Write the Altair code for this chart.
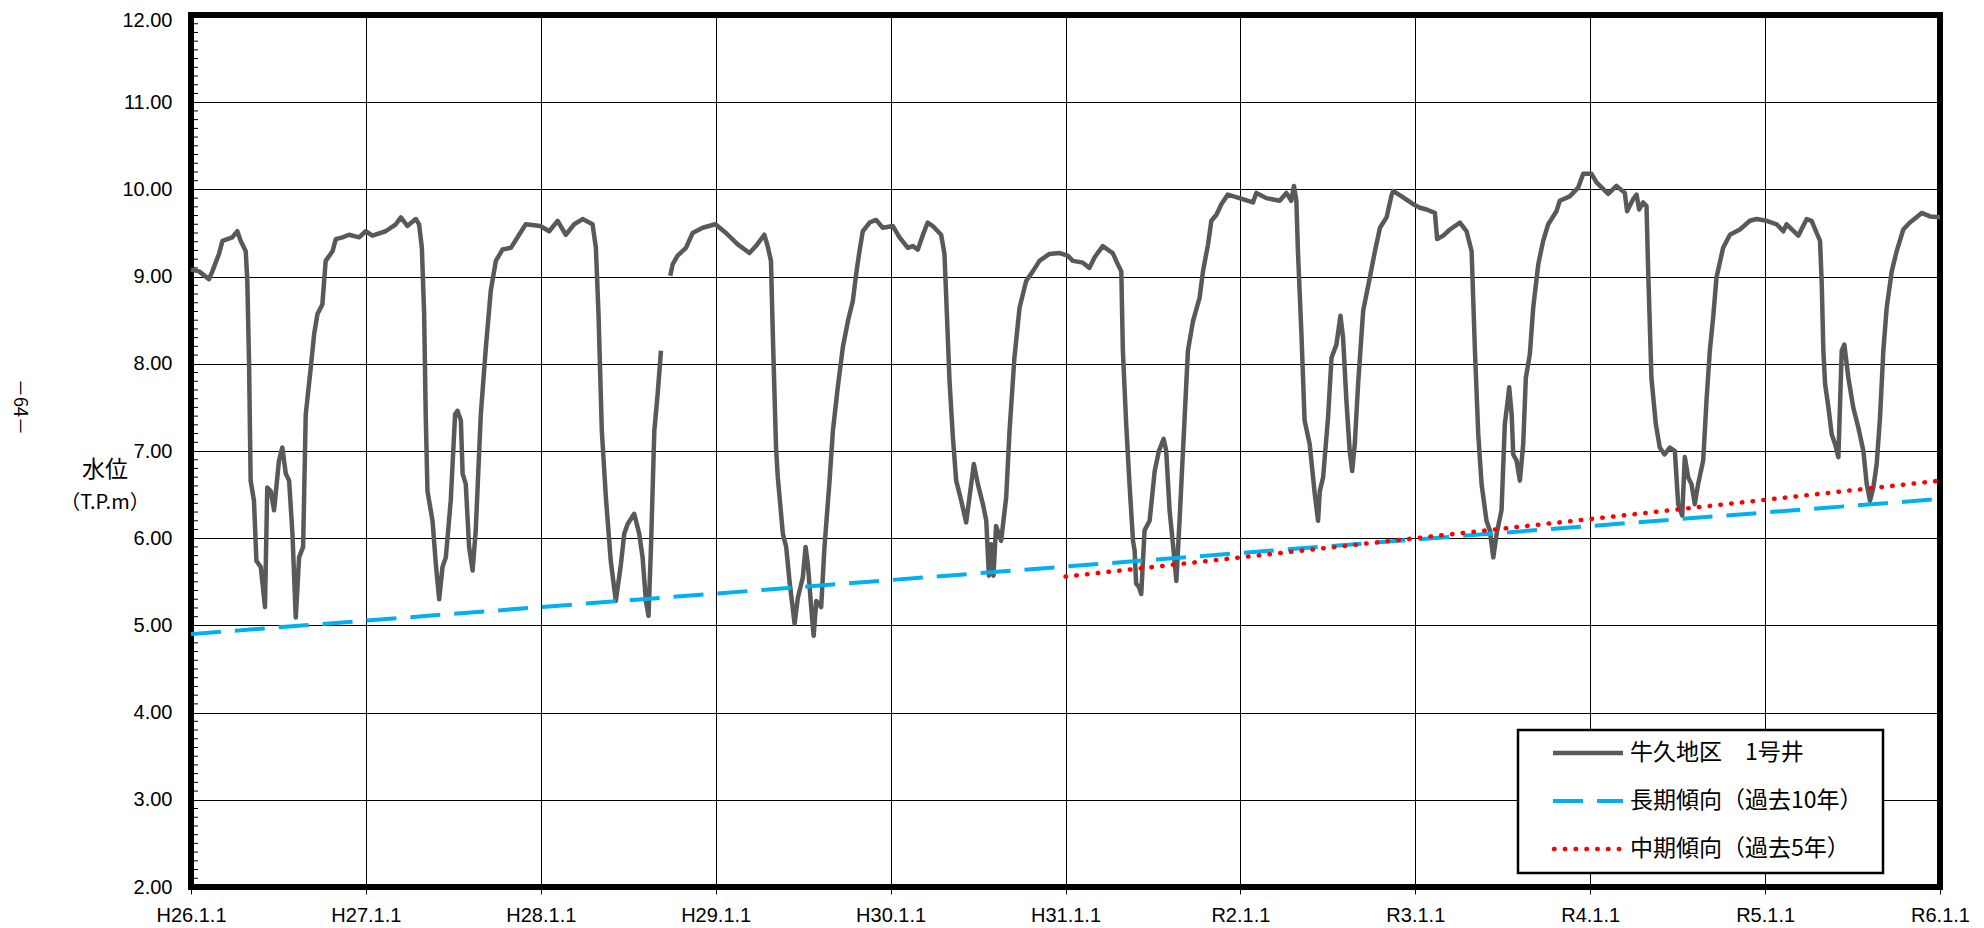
import altair as alt
import pandas as pd

# ---------------- data ----------------
X_LABELS = ["H26.1.1", "H27.1.1", "H28.1.1", "H29.1.1", "H30.1.1", "H31.1.1",
            "R2.1.1", "R3.1.1", "R4.1.1", "R5.1.1", "R6.1.1"]
X_TICKS = list(range(11))            # years since H26.1.1
Y_TICKS = [2, 3, 4, 5, 6, 7, 8, 9, 10, 11, 12]
SERIES = ["牛久地区　1号井", "長期傾向（過去10年）", "中期傾向（過去5年）"]

# observed water level, (years since H26.1.1, T.P.m), first segment (before data gap)
seg1 = [(0.0, 9.08), (0.046, 9.06), (0.103, 8.97), (0.122, 9.06), (0.16, 9.26), (0.18, 9.41),
        (0.236, 9.45), (0.265, 9.52), (0.284, 9.41), (0.313, 9.29), (0.322, 8.95), (0.332, 8.0),
        (0.341, 6.66), (0.36, 6.43), (0.374, 5.74), (0.399, 5.67), (0.423, 5.21), (0.436, 6.58),
        (0.456, 6.54), (0.475, 6.32), (0.503, 6.89), (0.522, 7.04), (0.542, 6.74), (0.561, 6.66),
        (0.58, 6.05), (0.599, 5.09), (0.618, 5.78), (0.641, 5.9), (0.656, 7.42), (0.685, 7.96),
        (0.704, 8.34), (0.723, 8.57), (0.751, 8.68), (0.77, 9.18), (0.809, 9.29), (0.828, 9.43),
        (0.866, 9.45), (0.904, 9.48), (0.961, 9.45), (0.999, 9.52), (1.037, 9.47), (1.113, 9.52),
        (1.171, 9.6), (1.2, 9.68), (1.237, 9.58), (1.285, 9.66), (1.304, 9.6), (1.32, 9.33),
        (1.333, 8.57), (1.342, 7.42), (1.352, 6.54), (1.381, 6.2), (1.4, 5.7), (1.419, 5.3),
        (1.438, 5.67), (1.457, 5.78), (1.485, 6.43), (1.51, 7.42), (1.524, 7.46), (1.543, 7.35),
        (1.553, 6.74), (1.571, 6.62), (1.59, 5.9), (1.61, 5.63), (1.628, 6.09), (1.657, 7.42),
        (1.686, 8.19), (1.714, 8.84), (1.743, 9.18), (1.781, 9.31), (1.829, 9.33), (1.876, 9.48),
        (1.914, 9.6), (1.997, 9.58), (2.048, 9.52), (2.096, 9.64), (2.143, 9.48), (2.191, 9.6),
        (2.239, 9.66), (2.296, 9.6), (2.315, 9.33), (2.33, 8.57), (2.349, 7.23), (2.372, 6.47),
        (2.4, 5.74), (2.429, 5.28), (2.458, 5.7), (2.477, 6.05), (2.496, 6.16), (2.534, 6.28),
        (2.563, 6.05), (2.582, 5.78), (2.601, 5.28), (2.616, 5.11), (2.63, 5.9), (2.649, 7.23),
        (2.668, 7.65), (2.687, 8.15)]

# second segment (after the gap)
seg2 = [(2.74, 9.01), (2.754, 9.14), (2.782, 9.24), (2.83, 9.33), (2.868, 9.5), (2.925, 9.56),
        (2.998, 9.6), (3.059, 9.5), (3.126, 9.37), (3.193, 9.27), (3.23, 9.35), (3.278, 9.48),
        (3.297, 9.35), (3.316, 9.18), (3.326, 8.38), (3.345, 7.04), (3.355, 6.7), (3.384, 6.05),
        (3.403, 5.9), (3.422, 5.51), (3.451, 5.02), (3.47, 5.32), (3.498, 5.55), (3.514, 5.9),
        (3.527, 5.7), (3.546, 5.21), (3.56, 4.88), (3.575, 5.28), (3.603, 5.21), (3.622, 5.9),
        (3.651, 6.66), (3.67, 7.23), (3.698, 7.73), (3.727, 8.19), (3.756, 8.49), (3.784, 8.72),
        (3.803, 9.03), (3.822, 9.29), (3.841, 9.52), (3.88, 9.62), (3.917, 9.65), (3.955, 9.56),
        (4.013, 9.58), (4.051, 9.45), (4.099, 9.33), (4.127, 9.35), (4.156, 9.31), (4.185, 9.48),
        (4.212, 9.62), (4.241, 9.58), (4.289, 9.48), (4.308, 9.26), (4.318, 8.76), (4.337, 7.8),
        (4.356, 7.16), (4.375, 6.66), (4.404, 6.43), (4.432, 6.18), (4.451, 6.47), (4.476, 6.85),
        (4.499, 6.62), (4.528, 6.39), (4.547, 6.2), (4.562, 5.57), (4.575, 5.93), (4.588, 5.57),
        (4.603, 6.14), (4.632, 5.97), (4.661, 6.47), (4.68, 7.23), (4.708, 8.07), (4.737, 8.64),
        (4.775, 8.95), (4.813, 9.06), (4.851, 9.18), (4.908, 9.26), (4.966, 9.27), (5.013, 9.24),
        (5.042, 9.18), (5.099, 9.16), (5.137, 9.1), (5.166, 9.22), (5.213, 9.35), (5.27, 9.27),
        (5.29, 9.18), (5.319, 9.06), (5.328, 8.15), (5.347, 7.31), (5.366, 6.62), (5.386, 5.97),
        (5.395, 5.86), (5.404, 5.48), (5.42, 5.44), (5.433, 5.36), (5.452, 6.09), (5.481, 6.2),
        (5.51, 6.77), (5.534, 7.0), (5.561, 7.14), (5.576, 7.0), (5.595, 6.32), (5.618, 5.86),
        (5.634, 5.51), (5.653, 6.24), (5.681, 7.38), (5.7, 8.15), (5.729, 8.49), (5.767, 8.76),
        (5.786, 9.06), (5.815, 9.37), (5.834, 9.64), (5.863, 9.71), (5.891, 9.83), (5.928, 9.94),
        (5.995, 9.9), (6.072, 9.85), (6.091, 9.96), (6.148, 9.9), (6.225, 9.87), (6.263, 9.96),
        (6.291, 9.87), (6.306, 10.04), (6.32, 9.87), (6.329, 9.29), (6.349, 8.34), (6.367, 7.35),
        (6.396, 7.08), (6.425, 6.51), (6.444, 6.2), (6.454, 6.54), (6.473, 6.7), (6.501, 7.38),
        (6.521, 8.07), (6.549, 8.22), (6.572, 8.55), (6.587, 8.3), (6.606, 7.58), (6.625, 7.0),
        (6.639, 6.77), (6.654, 7.08), (6.673, 7.77), (6.702, 8.61), (6.74, 8.99), (6.769, 9.29),
        (6.798, 9.56), (6.836, 9.68), (6.865, 9.94), (6.874, 9.98), (6.922, 9.92), (6.988, 9.83),
        (7.026, 9.79), (7.064, 9.77), (7.112, 9.73), (7.125, 9.43), (7.16, 9.47), (7.198, 9.54),
        (7.255, 9.62), (7.293, 9.52), (7.322, 9.29), (7.341, 8.15), (7.36, 7.19), (7.379, 6.62),
        (7.407, 6.2), (7.426, 6.09), (7.446, 5.78), (7.465, 6.05), (7.493, 6.32), (7.512, 7.31),
        (7.526, 7.54), (7.537, 7.73), (7.551, 7.42), (7.56, 6.96), (7.579, 6.89), (7.598, 6.66),
        (7.617, 7.08), (7.632, 7.84), (7.655, 8.11), (7.674, 8.64), (7.703, 9.14), (7.731, 9.41),
        (7.76, 9.6), (7.807, 9.75), (7.826, 9.87), (7.883, 9.92), (7.931, 10.02), (7.96, 10.18),
        (8.007, 10.18), (8.036, 10.08), (8.103, 9.95), (8.15, 10.04), (8.198, 9.96), (8.211, 9.75),
        (8.246, 9.89), (8.265, 9.94), (8.28, 9.77), (8.303, 9.85), (8.322, 9.81), (8.331, 9.1),
        (8.35, 7.84), (8.375, 7.31), (8.398, 7.04), (8.425, 6.96), (8.455, 7.04), (8.484, 7.0),
        (8.503, 6.39), (8.526, 6.26), (8.541, 6.93), (8.56, 6.7), (8.579, 6.62), (8.598, 6.39),
        (8.617, 6.62), (8.646, 6.89), (8.665, 7.58), (8.684, 8.15), (8.703, 8.53), (8.722, 8.99),
        (8.76, 9.33), (8.799, 9.48), (8.856, 9.54), (8.913, 9.64), (8.951, 9.66), (9.009, 9.64),
        (9.066, 9.6), (9.104, 9.52), (9.123, 9.6), (9.19, 9.47), (9.238, 9.66), (9.266, 9.64),
        (9.295, 9.5), (9.314, 9.41), (9.324, 8.91), (9.333, 8.15), (9.343, 7.77), (9.362, 7.5),
        (9.381, 7.19), (9.4, 7.08), (9.419, 6.93), (9.438, 8.15), (9.453, 8.22), (9.476, 7.84),
        (9.504, 7.5), (9.533, 7.27), (9.562, 7.0), (9.581, 6.62), (9.6, 6.43), (9.619, 6.58),
        (9.638, 6.85), (9.657, 7.38), (9.676, 8.15), (9.695, 8.64), (9.724, 9.06), (9.752, 9.29),
        (9.79, 9.54), (9.828, 9.62), (9.866, 9.68), (9.895, 9.73), (9.943, 9.69), (10.0, 9.68)]

# trend lines
long_t = [0, 10]
long_v = [4.90, 6.45]
mid_t = [5, 10]
mid_v = [5.56, 6.66]

# ---------------- build tables ----------------
rows = [{"t": t, "v": v, "seg": 1} for t, v in seg1] + [{"t": t, "v": v, "seg": 2} for t, v in seg2]
well_df = pd.DataFrame(rows)
long_df = pd.DataFrame({"t": long_t, "v": long_v})
mid_df = pd.DataFrame({"t": mid_t, "v": mid_v})
minor_df = pd.DataFrame({"y": [round(2 + i * 0.1, 1) for i in range(101) if i % 10 != 0]})

TOP = 7
W, H = 1749, 879 - TOP
DY = TOP - 6
NUM_FONT = "Liberation Sans"
JP_FONT = "Noto Sans CJK JP"
GRAY = "#595959"
BLUE = "#00B0F0"
RED = "#FF0000"

x_scale = alt.Scale(domain=[0, 10], nice=False, zero=False)
y_scale = alt.Scale(domain=[2, 12], nice=False, zero=False)
label_expr = "[" + ",".join("'%s'" % s for s in X_LABELS) + "][round(datum.value)]"

x_axis = alt.Axis(values=X_TICKS, labelExpr=label_expr, grid=True, gridColor="black",
                  gridWidth=1, domain=False, ticks=True, tickSize=7, tickColor="black",
                  tickWidth=1, labelFont=NUM_FONT, labelFontSize=20, labelColor="black",
                  labelPadding=11, labelFlush=False, labelOverlap=False, title=None)
y_axis = alt.Axis(values=Y_TICKS, format=".2f", grid=True, gridColor="black", gridWidth=1,
                  domain=False, ticks=False, labelFont=NUM_FONT, labelFontSize=20,
                  labelColor="black", labelPadding=19, labelFlush=False, labelOverlap=False,
                  labelOffset={"condition": {"test": "datum.value == 12", "value": 5}, "value": 0},
                  title=None)

X = alt.X("t:Q", scale=x_scale, axis=x_axis)
Y = alt.Y("v:Q", scale=y_scale, axis=y_axis)

well = alt.Chart(well_df).mark_line(color=GRAY, strokeWidth=4.5, strokeJoin="round").encode(
    x=X, y=Y, detail="seg:N")
long_line = alt.Chart(long_df).mark_line(color=BLUE, strokeWidth=4, strokeDash=[30, 14]).encode(x=X, y=Y)
mid_line = alt.Chart(mid_df).mark_line(color=RED, strokeWidth=4.5, strokeDash=[0.5, 10.3],
                                       strokeCap="round").encode(x=X, y=Y)

minor_ticks = alt.Chart(minor_df).mark_rule(color="black", strokeWidth=1).encode(
    y=alt.Y("y:Q", scale=y_scale, axis=y_axis), x=alt.value(0), x2=alt.value(7))

one = pd.DataFrame({"a": [0]})


def txt(s, x, y, size, font=JP_FONT, align="center", angle=0):
    kw = dict(font=font, fontSize=size, color="black", align=align, baseline="middle")
    if angle:
        kw["angle"] = angle
    return alt.Chart(one).mark_text(**kw).encode(x=alt.value(x), y=alt.value(y), text=alt.value(s))


# y-axis title and page number (positions relative to plot origin)
ytitle1 = txt("水位", -86, 456 - DY, 23)
ytitle2 = txt("（T.P.m）", -86, 489 - DY, 20)
page_no = txt("－64－", -172, 393 - DY, 18, angle=90)

# legend box
LX0, LX1 = 1327, 1692
LY0, LY1 = 716 - DY, 859 - DY
SYM_X0, SYM_X1, LAB_X = 1362, 1432, 1439
ROWS_Y = [739 - DY, 787 - DY, 835 - DY]
box = alt.Chart(one).mark_rect(fill="white", stroke="black", strokeWidth=2.5).encode(
    x=alt.value(LX0), x2=alt.value(LX1), y=alt.value(LY0), y2=alt.value(LY1))
sym1 = alt.Chart(one).mark_rule(color=GRAY, strokeWidth=4.5).encode(
    x=alt.value(SYM_X0), x2=alt.value(SYM_X1), y=alt.value(ROWS_Y[0]))
sym2 = alt.Chart(one).mark_rule(color=BLUE, strokeWidth=4, strokeDash=[30, 14]).encode(
    x=alt.value(SYM_X0), x2=alt.value(SYM_X1), y=alt.value(ROWS_Y[1]))
sym3 = alt.Chart(one).mark_rule(color=RED, strokeWidth=4.5, strokeDash=[0.5, 10.3], strokeCap="round").encode(
    x=alt.value(SYM_X0 + 1), x2=alt.value(SYM_X1), y=alt.value(ROWS_Y[2]))
labels = [txt(s, LAB_X, y, 23, align="left") for s, y in zip(SERIES, ROWS_Y)]

chart = alt.layer(
    minor_ticks, well, long_line, mid_line, box, sym1, sym2, sym3, *labels,
    ytitle1, ytitle2, page_no
).properties(
    width=W, height=H,
    autosize=alt.AutoSizeParams(type="none"),
    padding={"left": 183, "top": TOP, "right": 36, "bottom": 40},
    background="white",
).configure_view(stroke="black", strokeWidth=6)

chart.save("out.html", embed_options={"renderer": "svg", "actions": False})
